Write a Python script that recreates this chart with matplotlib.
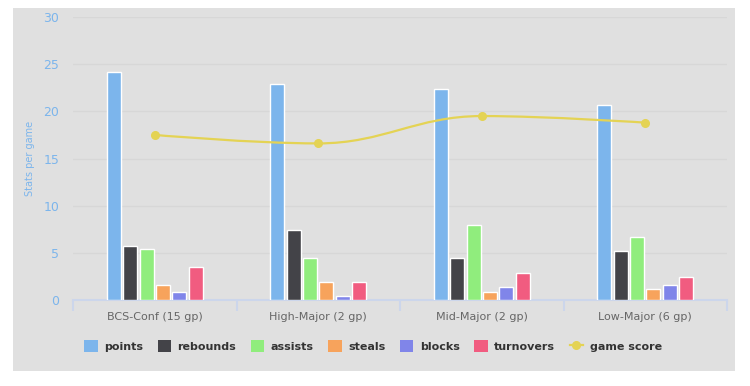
import matplotlib.pyplot as plt
import numpy as np
from matplotlib.patches import Rectangle, Patch
from matplotlib.lines import Line2D
from matplotlib.path import Path
from matplotlib.patches import PathPatch

categories = ['BCS-Conf (15 gp)', 'High-Major (2 gp)', 'Mid-Major (2 gp)', 'Low-Major (6 gp)']
points = [24.2, 22.9, 22.4, 20.7]
rebounds = [5.7, 7.4, 4.4, 5.2]
assists = [5.4, 4.4, 7.9, 6.7]
steals = [1.6, 1.9, 0.9, 1.2]
blocks = [0.9, 0.4, 1.4, 1.6]
turnovers = [3.5, 1.9, 2.9, 2.4]
game_score = [17.5, 16.6, 19.5, 18.8]

series = [('points', points, '#7cb5ec'), ('rebounds', rebounds, '#434348'),
          ('assists', assists, '#90ed7d'), ('steals', steals, '#f7a35c'),
          ('blocks', blocks, '#8085e9'), ('turnovers', turnovers, '#f15c80')]
line_color = '#e4d354'


def spline_path(xs, ys, smoothing=1.5):
    # highcharts-style spline control points
    verts = [(xs[0], ys[0])]
    codes = [Path.MOVETO]
    n = len(xs)
    conts = []
    for i in range(n):
        if i == 0 or i == n - 1:
            conts.append(((xs[i], ys[i]), (xs[i], ys[i])))
            continue
        d = smoothing + 1
        lx = (smoothing * xs[i] + xs[i - 1]) / d
        ly = (smoothing * ys[i] + ys[i - 1]) / d
        rx = (smoothing * xs[i] + xs[i + 1]) / d
        ry = (smoothing * ys[i] + ys[i + 1]) / d
        corr = ((ry - ly) * (rx - xs[i])) / (rx - lx) + ys[i] - ry
        ly += corr
        ry += corr
        if ly > max(ys[i - 1], ys[i]):
            ly = max(ys[i - 1], ys[i]); ry = 2 * ys[i] - ly
        elif ly < min(ys[i - 1], ys[i]):
            ly = min(ys[i - 1], ys[i]); ry = 2 * ys[i] - ly
        if ry > max(ys[i + 1], ys[i]):
            ry = max(ys[i + 1], ys[i]); ly = 2 * ys[i] - ry
        elif ry < min(ys[i + 1], ys[i]):
            ry = min(ys[i + 1], ys[i]); ly = 2 * ys[i] - ry
        conts.append(((lx, ly), (rx, ry)))
    for i in range(1, n):
        verts += [conts[i - 1][1], conts[i][0], (xs[i], ys[i])]
        codes += [Path.CURVE4] * 3
    return Path(verts, codes)


fig = plt.figure(figsize=(7.5, 3.86), dpi=100)
fig.patch.set_facecolor('white')
fig.patches.append(Rectangle((13 / 750, 15 / 386), 722 / 750, 363 / 386,
                             transform=fig.transFigure, facecolor='#e0e0e0',
                             edgecolor='none', zorder=-10))

ax = fig.add_axes([73 / 750, 86 / 386, 654 / 750, 283 / 386])
ax.set_zorder(1)
ax.set_facecolor('none')

x = np.arange(len(categories))
for i, (name, vals, col) in enumerate(series):
    ax.bar(x + (i - 2.5) * 0.1, vals, width=0.085, color=col,
           edgecolor='white', linewidth=1, zorder=3)

path = spline_path(list(x), game_score)
ax.add_patch(PathPatch(path, facecolor='none', edgecolor=line_color, lw=1.6, zorder=4))
ax.plot(x, game_score, 'o', color=line_color, markersize=5.5, zorder=5)

ax.set_xlim(-0.5, 3.5)
ax.set_ylim(0, 30)
ax.set_yticks(range(0, 31, 5))
ax.grid(axis='y', color='#d7d7d7', lw=1, zorder=1)
ax.tick_params(axis='y', length=0, pad=10, labelcolor='#7cb5ec', labelsize=9)
ax.set_xticks([-0.5, 0.5, 1.5, 2.5, 3.5])
ax.set_xticklabels([])
ax.set_xticks(x, minor=True)
ax.set_xticklabels(categories, minor=True)
ax.tick_params(axis='x', which='major', length=8, color='#ccd6eb', width=1.5)
ax.tick_params(axis='x', which='minor', length=0, pad=9, labelcolor='#666666', labelsize=8)
for s in ['top', 'right', 'left']:
    ax.spines[s].set_visible(False)
ax.spines['bottom'].set_color('#ccd6eb')
ax.spines['bottom'].set_linewidth(1.5)
ax.set_ylabel('Stats per game', color='#7cb5ec', fontsize=7, labelpad=6)

handles = [Patch(facecolor=c, edgecolor='none') for _, _, c in series]
handles.append(Line2D([], [], color=line_color, marker='o', lw=1.6, markersize=5.5))
labels = [n for n, _, _ in series] + ['game score']
fig.legend(handles, labels, loc='center', bbox_to_anchor=(373 / 750, 1 - 346 / 386),
           ncol=7, frameon=False, prop={'weight': 'bold', 'size': 8},
           labelcolor='#333333', handlelength=1.2, handleheight=1.2,
           handletextpad=0.6, columnspacing=1.3)

fig.savefig('out.png', dpi=100)
